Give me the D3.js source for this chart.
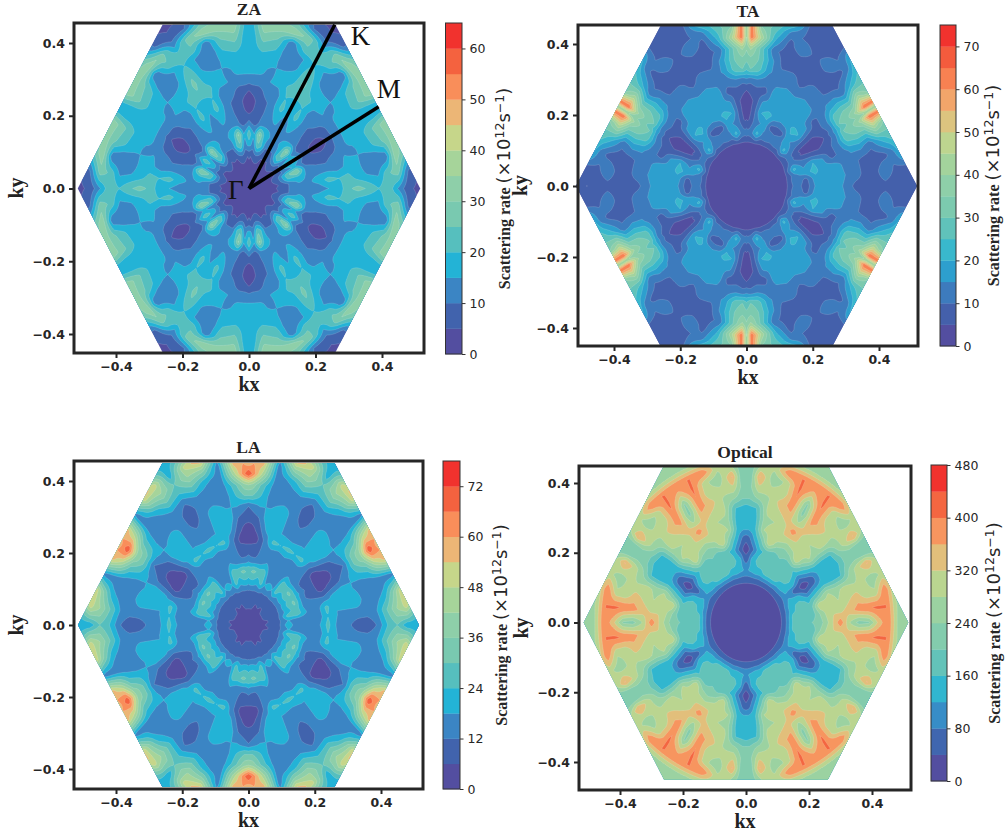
<!DOCTYPE html>
<html><head><meta charset="utf-8">
<script src="https://cdn.jsdelivr.net/npm/d3@7"></script>
<style>html,body{margin:0;padding:0;background:#fff}svg{display:block}</style>
</head><body><svg id="c" width="1006" height="834"></svg>
<script>
// Values read from the irreducible 0-30 degree wedge of the hexagonal zone.
// Rows follow waveAngles (degrees from kx axis); columns follow waveRadii (|k|).
const waveAngles = [0,6,12,18,24,28,30];
const waveRadii = [0,.03,.06,.09,.12,.15,.18,.21,.24,.27,.30,.33,.36,.39,.42,.45,.48,.51];
const zaValues = [
[2,2,2,6,10,14,13,12,15,17,24,27,24,20,24,14,6,4],
[2,2,2,5,10,15,14,17,22,20,22,17,15,14,24,28,10,5],
[2,2,3,8,20,18,14,14,14,13,16,17,11,10,11,34,24,24],
[2,2,3,9,24,32,12,10,9,13,15,14,17,20,25,32,32,32],
[2,2,3,6,12,15,8,6,6,7,14,16,17,22,28,34,34,34],
[2,2,3,5,16,20,10,5,3,6,14,16,17,18,18,20,20,20],
[2,2,3,6,16,25,12,4,2,5,13,17,17,17,16,15,15,15]];
const taValues = [
[1,1,1,1,4,13,7,16,20,17,14,8,8,8,8,7,5,5],
[1,1,1,1,4,15,8,18,20,18,15,13,8,8,14,9,7,7],
[1,1,1,1,4,14,18,22,16,18,14,12,8,7,8,12,24,24],
[1,1,1,1,4,22,14,20,16,8,12,16,17,12,20,26,32,32],
[1,1,1,1,4,14,10,8,6,8,14,28,30,30,45,35,35,35],
[1,1,1,1,4,12,5,3,3,6,12,30,34,42,65,65,65,65],
[1,1,1,1,4,13,6,2,2,5,14,26,32,36,40,40,40,40]];
const laValues = [
[3,4,7,10,22,13,13,16,26,16,13,10,6,13,24,30,19,19],
[3,4,6,10,18,14,13,13,24,18,14,14,16,18,30,42,50,30],
[3,5,6,10,26,28,18,14,26,18,24,24,14,14,20,38,60,60],
[3,5,7,10,20,28,14,14,14,20,24,18,13,14,14,14,22,22],
[3,5,7,10,22,32,13,9,4,8,12,18,24,28,45,56,56,56],
[3,5,7,9,22,30,14,8,4,4,9,14,30,40,64,60,60,60],
[3,5,7,10,20,30,16,8,4,4,8,12,30,42,72,56,56,56]];
const opticalValues = [
[10,10,10,10,50,170,190,200,230,300,390,280,220,230,330,400,280,270],
[10,10,10,10,50,170,200,170,250,320,310,340,380,400,410,400,280,270],
[10,10,10,10,50,150,180,170,320,300,280,310,340,290,290,400,280,280],
[10,10,10,10,50,150,170,150,200,280,270,290,280,290,250,290,290,290],
[10,10,10,10,50,130,140,70,120,150,150,160,250,310,370,280,280,280],
[10,10,10,10,50,120,70,30,60,130,130,150,210,230,210,210,210,210],
[10,10,10,10,50,120,60,20,50,130,140,140,210,230,210,210,210,210]];

const titles = ["ZA","TA","LA","Optical"];
const xTicks = [-0.4,-0.2,0,0.2,0.4];
const yTicks = [-0.4,-0.2,0,0.2,0.4];
const bandEdges = [
 d3.range(0,66,5), d3.range(0,76,5), d3.range(0,79,6), d3.range(0,481,40)];
const barTicks = [
 d3.range(0,61,10), d3.range(0,71,10), d3.range(0,73,12), d3.range(0,481,80)];
const colorStops = ["#534ea0","#4163ad","#3b85c4","#23b3d6","#56bfbe","#79c9b0","#8ecfa9","#a6d49a","#c6d68a","#ecb676","#f98e5a","#f4623f","#f1322e"];

const layouts = [
 {values:zaValues, f:[74,424,23,353], xr:[116,382], yr:[334,43], bar:[445.5,462,23,354], lx:510},
 {values:taValues, f:[578,918,25,346], xr:[614,879], yr:[328,44], bar:[940,956,25,346], lx:999},
 {values:laValues, f:[74,423,461,789], xr:[116,381], yr:[769,481], bar:[443,460,461,789], lx:507},
 {values:opticalValues, f:[579,911,466,790], xr:[620,872], yr:[762,483], bar:[931,947,465,781], lx:1000}
];
const svg = d3.select("#c");
const sans = "'DejaVu Sans'", serif = "'Liberation Serif'";
const ramp = d3.piecewise(d3.interpolateRgb, colorStops);

// value at a wave vector: fold into the wedge, then look up the table
function lookup(table,kx,ky){
  let th = Math.atan2(Math.abs(ky),Math.abs(kx))*180/Math.PI;
  th = th%60; if(th>30) th = 60-th;
  const r = Math.min(Math.hypot(kx,ky),0.5099);
  const a = Math.min(d3.bisectRight(waveAngles,th),waveAngles.length-1);
  const b = Math.min(d3.bisectRight(waveRadii,r),waveRadii.length-1);
  const ta = (th-waveAngles[a-1])/(waveAngles[a]-waveAngles[a-1]);
  const tb = (r-waveRadii[b-1])/(waveRadii[b]-waveRadii[b-1]);
  const lo = d3.interpolateNumber(table[a-1][b-1],table[a-1][b])(tb);
  const hi = d3.interpolateNumber(table[a][b-1],table[a][b])(tb);
  return d3.interpolateNumber(lo,hi)(ta);
}

layouts.forEach((p,idx)=>{
  const edges = bandEdges[idx];
  const top = edges[edges.length-1];
  const x = d3.scaleLinear().domain([-0.4,0.4]).range(p.xr);
  const y = d3.scaleLinear().domain([-0.4,0.4]).range(p.yr);
  const g = svg.append("g");
  const dk = 0.004, kxs = d3.range(-0.56,0.5601,dk), kys = d3.range(0.48,-0.4801,-dk);
  const W = kxs.length, H = kys.length, grid = new Float64Array(W*H);
  kys.forEach((ky,j)=>kxs.forEach((kx,i)=>{grid[j*W+i]=lookup(p.values,kx,ky);}));
  const cx = d3.scaleLinear().domain([0.5,W-0.5]).range([x(kxs[0]),x(kxs[W-1])]);
  const cy0 = d3.scaleLinear().domain([0.5,H-0.5]).range([y(kys[0]),y(kys[H-1])]);
  const path = d3.geoPath(d3.geoTransform({point(a,b){this.stream.point(cx(a),cy0(b));}}));
  const hex = [[.515,0],[.26,.45],[-.26,.45],[-.515,0],[-.26,-.45],[.26,-.45]];
  const cid = "hex"+idx;
  svg.append("clipPath").attr("id",cid).append("polygon")
    .attr("points",hex.map(d=>[x(d[0]),y(d[1])].join(",")).join(" "));
  const bands = d3.contours().size([W,H]).smooth(true).thresholds(edges.slice(0,-1))(grid);
  const color = i=>ramp(i/(edges.length-2));
  g.append("g").attr("clip-path",`url(#${cid})`).selectAll("path").data(bands).join("path")
    .attr("fill",(d,i)=>color(i)).attr("fill-rule","evenodd")
    .attr("stroke","rgba(255,255,255,0.25)").attr("stroke-width",0.6)
    .attr("d",path);
  const [l,r,t,b] = p.f;
  g.append("rect").attr("x",l).attr("y",t).attr("width",r-l).attr("height",b-t)
    .attr("fill","none").attr("stroke","#262626").attr("stroke-width",3);
  const ax = g.append("g").attr("transform",`translate(0,${b})`)
    .call(d3.axisBottom(x).tickValues(xTicks).tickSize(5).tickPadding(4).tickFormat(d3.format(".1f")));
  const ay = g.append("g").attr("transform",`translate(${l},0)`)
    .call(d3.axisLeft(y).tickValues(yTicks).tickSize(5).tickPadding(4).tickFormat(d3.format(".1f")));
  [ax,ay].forEach(a=>{a.select(".domain").remove();
    a.selectAll("line").attr("stroke","#262626").attr("stroke-width",2);
    a.selectAll("text").attr("font-family",sans).attr("font-weight","bold").attr("font-size",12.5).attr("fill","#262626");});
  g.append("text").attr("x",(l+r)/2).attr("y",b+38).attr("text-anchor","middle")
    .attr("font-family",serif).attr("font-weight","bold").attr("font-size",20).attr("fill","#222").text("kx");
  g.append("text").attr("transform",`translate(${l-51},${(t+b)/2}) rotate(-90)`).attr("text-anchor","middle")
    .attr("font-family",serif).attr("font-weight","bold").attr("font-size",20).attr("fill","#222").text("ky");
  g.append("text").attr("x",(l+r)/2).attr("y",t-8).attr("text-anchor","middle")
    .attr("font-family",serif).attr("font-weight","bold").attr("font-size",17.5).attr("fill","#222").text(titles[idx]);
  const [bl,br,bt,bb] = p.bar;
  const cy = d3.scaleLinear().domain([0,top]).range([bb,bt]);
  const bar = svg.append("g");
  bar.selectAll("rect").data(d3.pairs(edges)).join("rect")
    .attr("x",bl).attr("width",br-bl).attr("y",d=>cy(d[1])).attr("height",d=>cy(d[0])-cy(d[1])+0.3)
    .attr("fill",(d,i)=>color(i));
  bar.append("rect").attr("x",bl).attr("y",bt).attr("width",br-bl).attr("height",bb-bt)
    .attr("fill","none").attr("stroke","#333").attr("stroke-width",1);
  const ab = bar.append("g").attr("transform",`translate(${br},0)`)
    .call(d3.axisRight(cy).tickValues(barTicks[idx]).tickSize(3.5).tickPadding(4).tickFormat(d3.format("d")));
  ab.select(".domain").remove();
  ab.selectAll("line").attr("stroke","#333");
  ab.selectAll("text").attr("font-family",sans).attr("font-size",12.5).attr("fill","#262626");
  const lab = bar.append("text").attr("transform",`translate(${p.lx},${(bt+bb)/2}) rotate(-90)`)
    .attr("text-anchor","middle").attr("fill","#262626");
  lab.append("tspan").attr("font-family",serif).attr("font-weight","bold").attr("font-size",16).text("Scattering rate ");
  lab.append("tspan").attr("font-family",sans).attr("font-size",18).text("(×10");
  lab.append("tspan").attr("font-family",sans).attr("font-size",12.5).attr("dy",-6).text("12");
  lab.append("tspan").attr("font-family",sans).attr("font-size",18).attr("dy",6).text("s");
  lab.append("tspan").attr("font-family",sans).attr("font-size",12.5).attr("dy",-6).text("−1");
  lab.append("tspan").attr("font-family",sans).attr("font-size",18).attr("dy",6).text(")");
  if(idx===0){
    const marks = [{n:"K",k:[.258,.45],t:[.335,.395]},{n:"M",k:[.39,.225],t:[.42,.25]}];
    marks.forEach(m=>{
      g.append("line").attr("x1",x(0)).attr("y1",y(0)).attr("x2",x(m.k[0])).attr("y2",y(m.k[1]))
        .attr("stroke","#000").attr("stroke-width",3.5);
      g.append("text").attr("x",x(m.t[0])).attr("y",y(m.t[1])).attr("text-anchor","middle")
        .attr("font-family",serif).attr("font-size",27).attr("fill","#111").text(m.n);
    });
    g.append("text").attr("x",x(-0.04)).attr("y",y(-0.03)).attr("text-anchor","middle")
      .attr("font-family",serif).attr("font-size",27).attr("fill","#111").text("Γ");
  }
});
</script></body></html>
